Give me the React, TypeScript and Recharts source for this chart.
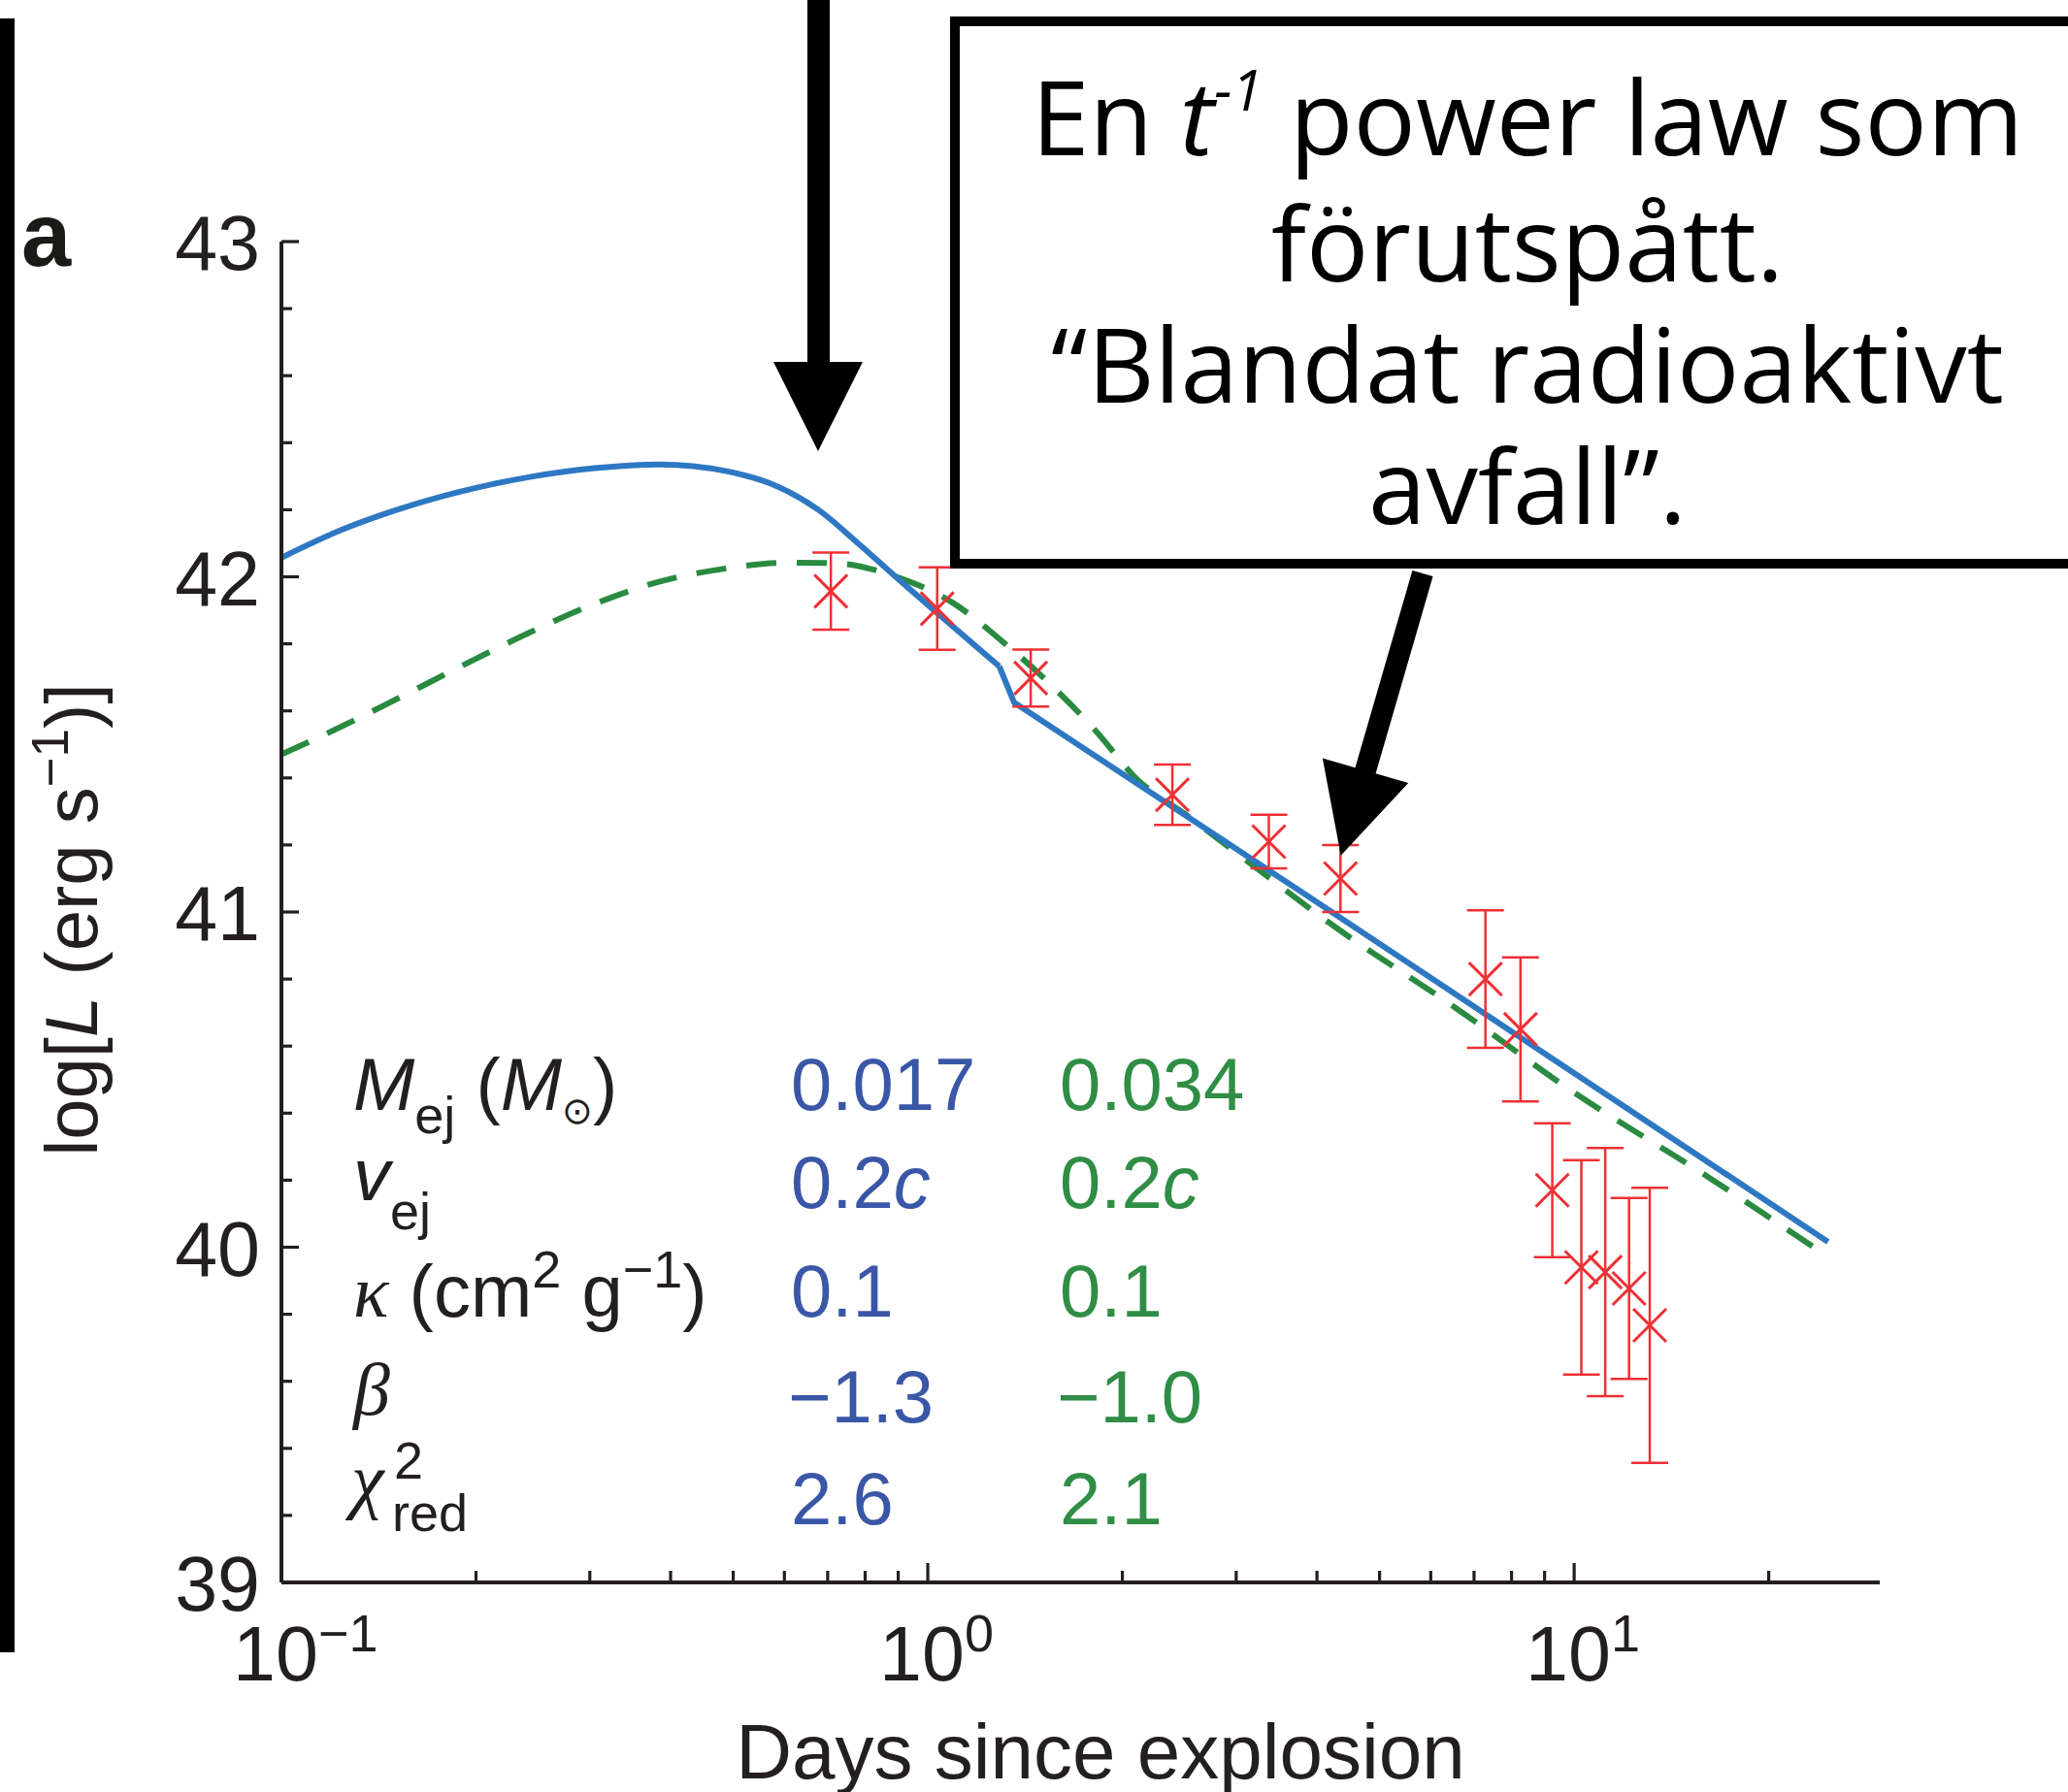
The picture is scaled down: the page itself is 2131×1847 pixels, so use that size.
import React from 'react';
import { ComposedChart, Line, Scatter, XAxis, YAxis, ErrorBar } from 'recharts';

const W = 2131;
const H = 1847;

// ---- data (t in days since explosion, value = log L) ----
// blue model: smooth rise/peak part, then the kink and the straight power-law tail
const blueT = [0.1, 0.125, 0.151, 0.19, 0.241, 0.305, 0.385, 0.488, 0.588, 0.677, 0.78, 0.898, 1.03, 1.29];
const blueL = [42.057, 42.143, 42.2, 42.255, 42.297, 42.324, 42.335, 42.315, 42.268, 42.2, 42.1, 41.995, 41.895, 41.733];
const blueTailT = [1.29, 1.36, 3.8, 24.7];
const blueTailL = [41.733, 41.625, 41.058, 40.016];

const greenT = [0.1, 0.125, 0.151, 0.19, 0.241, 0.305, 0.385, 0.488, 0.6, 0.713, 0.891, 1.098, 1.31, 1.546, 1.82, 2.09, 2.53, 3.01, 4.27, 6.6, 9.81, 16.1, 24.45];
const greenL = [41.47, 41.557, 41.636, 41.734, 41.832, 41.919, 41.986, 42.025, 42.042, 42.041, 42.001, 41.92, 41.804, 41.68, 41.54, 41.403, 41.285, 41.175, 40.955, 40.71, 40.472, 40.21, 39.977];

const obsT = [0.708, 1.034, 1.443, 2.39, 3.37, 4.35, 7.29, 8.26, 9.25, 10.26, 11.17, 12.16, 13.09];
const obsL = [41.957, 41.905, 41.698, 41.35, 41.21, 41.1, 40.8, 40.65, 40.17, 39.94, 39.926, 39.877, 39.767];
const obsErr = [0.115, 0.123, 0.085, 0.09, 0.08, 0.1, 0.205, 0.215, 0.2, 0.32, 0.37, 0.27, 0.41];

const xTicks = [0.1, 0.2, 0.3, 0.4, 0.5, 0.6, 0.7, 0.8, 0.9, 1, 2, 3, 4, 5, 6, 7, 8, 9, 10, 20];
const xMajor = [0.1, 1, 10];
const xMajorExp = ['\u22121', '0', '1'];
const yTicks = [39, 39.2, 39.4, 39.6, 39.8, 40, 40.2, 40.4, 40.6, 40.8, 41, 41.2, 41.4, 41.6, 41.8, 42, 42.2, 42.4, 42.6, 42.8, 43];
const yMajor = [39, 40, 41, 42, 43];

const blueParams = ['0.017', '0.2c', '0.1', '\u22121.3', '2.6'];
const greenParams = ['0.034', '0.2c', '0.1', '\u22121.0', '2.1'];

const noteLines = ['förutspått.', '\u201cBlandat radioaktivt', 'avfall\u201d.'];

const blueData = blueT.map((t, i) => ({ t, L: blueL[i] }));
const blueTailData = blueTailT.map((t, i) => ({ t, L: blueTailL[i] }));
const greenData = greenT.map((t, i) => ({ t, L: greenL[i] }));
const obsData = obsT.map((t, i) => ({ t, L: obsL[i], err: obsErr[i] }));

// ---- styles ----
const AXIS = '#231f20';
const BLUE_LINE = '#2e78c3';
const GREEN_LINE = '#2a8b40';
const RED = '#ee3035';
const TABLE_BLUE = '#3a56a6';
const TABLE_GREEN = '#2f8d45';
const SANS = '"Liberation Sans", Arial, Helvetica, sans-serif';
const SERIF = '"Liberation Serif", "Times New Roman", serif';
const NOTE_FONT = '"Open Sans", "Noto Sans", sans-serif';
const FS = 76;
const TICK_FS = 79;

const XTick = (props: any) => {
  const { x, y, payload } = props;
  const v = payload.value;
  const mi = xMajor.findIndex((m) => Math.abs(m - v) < 1e-9);
  const major = mi >= 0;
  return (
    <g>
      <line x1={x} y1={y} x2={x} y2={y - (major ? 20 : 12)} stroke={AXIS} strokeWidth={3.2} />
      {major && (
        <text x={x - 50} y={y + 101} fontSize={TICK_FS} fontFamily={SANS} fill={AXIS}>
          10
          <tspan fontSize={54} dy={-30}>{xMajorExp[mi]}</tspan>
        </text>
      )}
    </g>
  );
};

const YTick = (props: any) => {
  const { x, y, payload } = props;
  const v = payload.value;
  const major = yMajor.some((m) => Math.abs(m - v) < 1e-9);
  return (
    <g>
      <line x1={x} y1={y} x2={x + (major ? 18 : 11)} y2={y} stroke={AXIS} strokeWidth={3.2} />
      {major && (
        <text x={x - 22} y={y + 29} textAnchor="end" fontSize={TICK_FS} fontFamily={SANS} fill={AXIS}>
          {Math.round(v)}
        </text>
      )}
    </g>
  );
};

const Cross = (props: any) => {
  const { cx, cy } = props;
  if (cx == null || cy == null) return <g />;
  const s = 17;
  return (
    <g>
      <line x1={cx - s} y1={cy - s} x2={cx + s} y2={cy + s} stroke={RED} strokeWidth={3} />
      <line x1={cx - s} y1={cy + s} x2={cx + s} y2={cy - s} stroke={RED} strokeWidth={3} />
    </g>
  );
};

const renderParam = (s: string) => {
  if (s.endsWith('c')) {
    return (
      <>
        {s.slice(0, -1)}
        <tspan fontStyle="italic">c</tspan>
      </>
    );
  }
  return s;
};

const valueBaselines = [1144, 1245, 1357, 1466, 1571];

// diagonal arrow geometry (annotation)
const arrowTop = { x: 1466, y: 591 };
const arrowTip = { x: 1381.7, y: 881.7 };
const diagPoly = (() => {
  const dx = arrowTip.x - arrowTop.x;
  const dy = arrowTip.y - arrowTop.y;
  const len = Math.hypot(dx, dy);
  const ux = dx / len, uy = dy / len;
  const nx = uy, ny = -ux;
  const headLen = 91, shaftHalf = 11, headHalf = 46;
  const bx = arrowTip.x - ux * headLen, by = arrowTip.y - uy * headLen;
  const pts = [
    [arrowTop.x + nx * shaftHalf, arrowTop.y + ny * shaftHalf],
    [bx + nx * shaftHalf, by + ny * shaftHalf],
    [bx + nx * headHalf, by + ny * headHalf],
    [arrowTip.x, arrowTip.y],
    [bx - nx * headHalf, by - ny * headHalf],
    [bx - nx * shaftHalf, by - ny * shaftHalf],
    [arrowTop.x - nx * shaftHalf, arrowTop.y - ny * shaftHalf],
  ];
  return pts.map((p) => p.join(',')).join(' ');
})();

export default function App() {
  return (
    <div style={{ position: 'absolute', left: 0, top: 0, width: W, height: H, background: '#fff', overflow: 'hidden' }}>
      <ComposedChart width={W} height={H} margin={{ top: 249, right: 194, bottom: 66, left: 90 }}>
        <XAxis
          dataKey="t"
          type="number"
          scale="log"
          domain={[0.1, 29.7]}
          allowDataOverflow
          ticks={xTicks}
          interval={0}
          tickSize={0}
          tickMargin={0}
          tickLine={false}
          tick={XTick}
          height={150}
          axisLine={{ stroke: AXIS, strokeWidth: 4 }}
        />
        <YAxis
          type="number"
          domain={[39, 43]}
          allowDataOverflow
          ticks={yTicks}
          interval={0}
          tickSize={0}
          tickMargin={0}
          tickLine={false}
          tick={YTick}
          width={200}
          axisLine={{ stroke: AXIS, strokeWidth: 4 }}
        />
        <Line
          data={greenData}
          dataKey="L"
          type="monotone"
          stroke={GREEN_LINE}
          strokeWidth={6}
          strokeDasharray="31 21"
          dot={false}
          activeDot={false}
          isAnimationActive={false}
        />
        <Line
          data={blueData}
          dataKey="L"
          type="monotone"
          stroke={BLUE_LINE}
          strokeWidth={6}
          strokeLinejoin="round"
          dot={false}
          activeDot={false}
          isAnimationActive={false}
        />
        <Line
          data={blueTailData}
          dataKey="L"
          type="linear"
          stroke={BLUE_LINE}
          strokeWidth={6}
          strokeLinejoin="round"
          dot={false}
          activeDot={false}
          isAnimationActive={false}
        />
        <Scatter data={obsData} dataKey="L" shape={Cross} isAnimationActive={false}>
          <ErrorBar dataKey="err" direction="y" width={19} stroke={RED} strokeWidth={2.5} />
        </Scatter>
      </ComposedChart>

      <svg
        width={W}
        height={H}
        style={{ position: 'absolute', left: 0, top: 0, pointerEvents: 'none' }}
      >
        {/* left black bar */}
        <rect x={0} y={19} width={15} height={1684} fill="#000" />
        {/* panel label */}
        <text x={22} y={274} fontSize={92} fontWeight="bold" fontFamily={SANS} fill="#1a1a17">a</text>

        {/* axis titles */}
        <text
          transform="translate(100,948) rotate(-90)"
          textAnchor="middle"
          fontSize={FS}
          fontFamily={SANS}
          fill={AXIS}
        >
          log[<tspan fontStyle="italic">L</tspan> (erg s<tspan fontSize={53} dy={-30}>{'\u22121'}</tspan>
          <tspan dy={30}>)]</tspan>
        </text>
        <text x={1134} y={1833} textAnchor="middle" fontSize={80} fontFamily={SANS} fill={AXIS}>
          Days since explosion
        </text>

        {/* parameter table labels */}
        <g fontFamily={SANS} fontSize={FS} fill={AXIS}>
          <text x={364} y={1144}>
            <tspan fontStyle="italic">M</tspan>
            <tspan fontSize={54} dy={24}>ej</tspan>
            <tspan dy={-24}> (</tspan>
            <tspan fontStyle="italic">M</tspan>
            <tspan fontFamily='"DejaVu Sans", sans-serif' fontSize={38} dy={14}>{'\u2299'}</tspan>
            <tspan dy={-14}>)</tspan>
          </text>
          <text x={364} y={1237}>
            <tspan fontStyle="italic">v</tspan>
            <tspan fontSize={54} dy={30}>ej</tspan>
          </text>
          <text x={364} y={1357}>
            <tspan fontFamily={SERIF} fontStyle="italic">{'\u03ba'}</tspan>
            <tspan> (cm</tspan>
            <tspan fontSize={54} dy={-30}>2</tspan>
            <tspan dy={30}> g</tspan>
            <tspan fontSize={54} dy={-30}>{'\u22121'}</tspan>
            <tspan dy={30}>)</tspan>
          </text>
          <text x={364} y={1458} fontFamily={SERIF} fontStyle="italic">{'\u03b2'}</text>
          <text x={362} y={1551} fontFamily={SERIF} fontStyle="italic">{'\u03c7'}</text>
          <text x={406} y={1524} fontSize={54}>2</text>
          <text x={404} y={1578} fontSize={54}>red</text>
        </g>
        <g fontFamily={SANS} fontSize={FS}>
          {blueParams.map((p, i) => (
            <text key={'b' + i} x={p.startsWith('\u2212') ? 812 : 815} y={valueBaselines[i]} fill={TABLE_BLUE}>
              {renderParam(p)}
            </text>
          ))}
          {greenParams.map((p, i) => (
            <text key={'g' + i} x={p.startsWith('\u2212') ? 1089 : 1092} y={valueBaselines[i]} fill={TABLE_GREEN}>
              {renderParam(p)}
            </text>
          ))}
        </g>

        {/* annotation box */}
        <rect x={984} y={22} width={1300} height={559} fill="#fff" stroke="#000" strokeWidth={10} />
        <g fontFamily={NOTE_FONT} fontSize={107} fill="#000" textAnchor="middle">
          <text x={1574} y={160}>
            En <tspan fontStyle="italic">t</tspan>
            <tspan fontSize={58} dy={-46} fontStyle="italic">-1</tspan>
            <tspan dy={46}> power law som</tspan>
          </text>
          {noteLines.map((l, i) => (
            <text key={i} x={1574} y={290 + i * 125}>{l}</text>
          ))}
        </g>

        {/* arrows */}
        <polygon points="832,0 855,0 855,373 889,373 843,465 797,373 832,373" fill="#000" />
        <polygon points={diagPoly} fill="#000" />
      </svg>
    </div>
  );
}
